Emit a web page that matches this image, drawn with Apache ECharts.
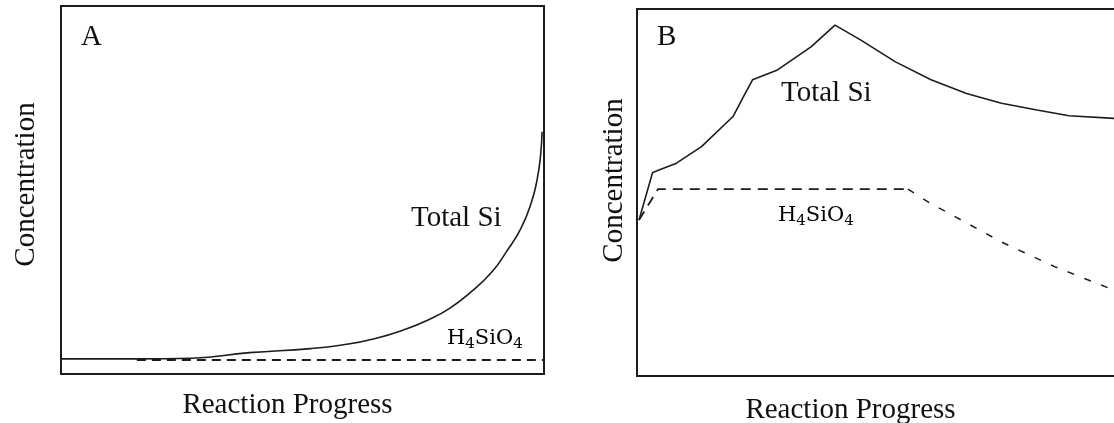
<!DOCTYPE html>
<html>
<head>
<meta charset="utf-8">
<script src="https://cdn.jsdelivr.net/npm/echarts@6/dist/echarts.min.js"></script>
<style>
html,body{margin:0;padding:0;background:#fff;}
#chart{width:1114px;height:423px;}
</style>
</head>
<body>
<div id="chart"></div>
<script>
// Panel A
const aX = [0, 15.7, 27.1, 39.0, 51.6, 58.2, 64.9, 71.6, 76.0, 80.3, 84.9, 89.2, 92.2, 95.2, 97.4, 98.6, 99.3, 99.6];
const aTotalSi = [4.1, 4.1, 4.3, 5.8, 6.9, 7.9, 9.6, 12.3, 14.7, 17.7, 22.3, 27.7, 33.2, 39.5, 46.7, 53.0, 59.5, 65.8];
const aDashX = [15.7, 100];
const aH4SiO4 = [3.8, 3.8];
// Panel B
const bX = [0.4, 3.1, 4.0, 7.9, 12.9, 19.2, 21.3, 23.1, 28.1, 34.8, 39.6, 44.7, 51.7, 58.8, 65.9, 72.9, 80.0, 86.4, 95.4, 100];
const bTotalSi = [42.5, 55.4, 55.9, 58.0, 62.5, 70.7, 76.1, 80.7, 83.4, 89.7, 95.6, 91.6, 85.6, 80.7, 77.0, 74.3, 72.5, 70.9, 70.2, 69.9];
const bDashX = [0.4, 4.2, 54.2, 59.2, 62.3, 72.9, 83.5, 95.4, 100];
const bH4SiO4 = [42.5, 50.9, 50.9, 46.6, 44.4, 36.5, 29.8, 23.4, 21.0];
const splitIdx = 2;

const xLabel = 'Reaction Progress';
const yLabel = 'Concentration';
const panelLabels = ['A', 'B'];
const seriesNames = ['Total Si', 'H4SiO4'];

const pairs = (xs, ys) => xs.map((x, i) => [x, ys[i]]);
const FONT = 'Liberation Serif';
const ink = '#1c1c1c';

const hidden = {axisLine:{show:false}, axisTick:{show:false}, axisLabel:{show:false}, splitLine:{show:false}};
const nameStyle = (pad) => ({fontFamily: FONT, fontSize: 29, color: '#111', padding: pad});

const chart = echarts.init(document.getElementById('chart'), null, {renderer: 'canvas'});
const h4Rich = {
  a: {fontFamily: 'DejaVu Serif', fontSize: 21, color: '#111', verticalAlign: 'top', lineHeight: 24},
  s: {fontFamily: 'DejaVu Serif', fontSize: 15, color: '#111', verticalAlign: 'bottom', lineHeight: 24}
};
const h4Text = '{a|H}{s|4}{a|SiO}{s|4}';
const big = '29px "' + FONT + '"';

chart.setOption({
  animation: false,
  backgroundColor: '#fff',
  grid: [
    {left: 61, top: 6, width: 483, height: 368, show: true, borderColor: ink, borderWidth: 2, backgroundColor: 'transparent', outerBoundsMode: 'none', containLabel: false},
    {left: 637, top: 9, width: 500, height: 367, show: true, borderColor: ink, borderWidth: 2, backgroundColor: 'transparent', outerBoundsMode: 'none', containLabel: false}
  ],
  xAxis: [
    Object.assign({gridIndex: 0, type: 'value', min: 0, max: 100, name: xLabel, nameLocation: 'middle', nameGap: 17, nameTextStyle: nameStyle([0, 30, 0, 0])}, hidden),
    Object.assign({gridIndex: 1, type: 'value', min: 0, max: 100, name: xLabel, nameLocation: 'middle', nameGap: 20, nameTextStyle: nameStyle([0, 73, 0, 0])}, hidden)
  ],
  yAxis: [
    Object.assign({gridIndex: 0, type: 'value', min: 0, max: 100, name: yLabel, nameLocation: 'middle', nameGap: 20, nameTextStyle: nameStyle([0, 0, 0, 11])}, hidden),
    Object.assign({gridIndex: 1, type: 'value', min: 0, max: 100, name: yLabel, nameLocation: 'middle', nameGap: 8, nameTextStyle: nameStyle([0, 0, 0, 24])}, hidden)
  ],
  series: [
    {name: seriesNames[1], type: 'line', xAxisIndex: 0, yAxisIndex: 0, data: pairs(aDashX, aH4SiO4), showSymbol: false,
     lineStyle: {color: ink, width: 1.8, type: [9, 6]}},
    {name: seriesNames[0], type: 'line', xAxisIndex: 0, yAxisIndex: 0, data: pairs(aX, aTotalSi), showSymbol: false, smooth: 0.5,
     lineStyle: {color: ink, width: 1.6}},
    {name: seriesNames[0], type: 'line', xAxisIndex: 1, yAxisIndex: 1, data: pairs(bX, bTotalSi), showSymbol: false,
     lineStyle: {color: ink, width: 1.6}},
    {name: seriesNames[1], type: 'line', xAxisIndex: 1, yAxisIndex: 1, data: pairs(bDashX.slice(0, splitIdx + 1), bH4SiO4.slice(0, splitIdx + 1)), showSymbol: false,
     lineStyle: {color: ink, width: 1.8, type: [10, 7]}},
    {name: seriesNames[1], type: 'line', xAxisIndex: 1, yAxisIndex: 1, data: pairs(bDashX.slice(splitIdx), bH4SiO4.slice(splitIdx)), showSymbol: false,
     lineStyle: {color: ink, width: 1.5, type: [7, 11]}}
  ],
  graphic: [
    {type: 'text', x: 81, y: 23, style: {text: panelLabels[0], font: big, fill: '#111'}},
    {type: 'text', x: 657, y: 23, style: {text: panelLabels[1], font: big, fill: '#111'}},
    {type: 'text', x: 411, y: 204, style: {text: seriesNames[0], font: big, fill: '#111'}},
    {type: 'text', x: 781, y: 79, style: {text: seriesNames[0], font: big, fill: '#111'}},
    {type: 'text', x: 447, y: 328, style: {text: h4Text, rich: h4Rich}},
    {type: 'text', x: 778, y: 205, style: {text: h4Text, rich: h4Rich}}
  ]
});
</script>
</body>
</html>
